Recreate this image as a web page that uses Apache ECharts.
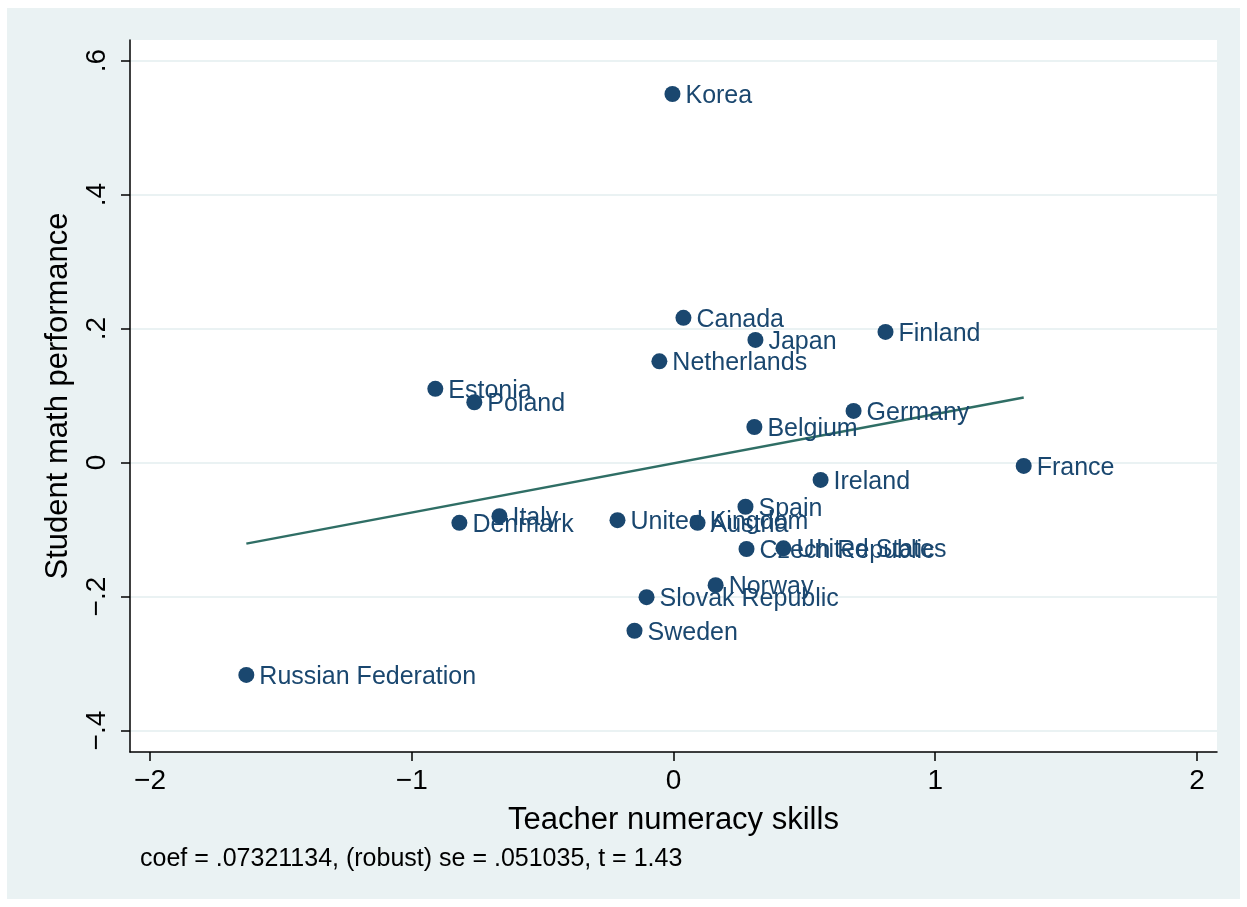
<!DOCTYPE html>
<html>
<head>
<meta charset="utf-8">
<script src="https://cdn.jsdelivr.net/npm/echarts@6/dist/echarts.min.js"></script>
<style>
  html, body { margin: 0; padding: 0; background: #ffffff; }
  #chart {
    position: absolute;
    left: 7px;
    top: 8px;
    width: 1233px;
    height: 891px;
    background: #eaf2f3;
  }
</style>
</head>
<body>
<div id="chart"></div>
<script>
// countries and their values
const countries = [
  'Korea', 'Canada', 'Japan', 'Finland', 'Netherlands', 'Estonia', 'Poland',
  'Germany', 'Belgium', 'France', 'Ireland', 'Spain', 'Italy', 'Denmark',
  'United Kingdom', 'Austria', 'Czech Republic', 'United States', 'Norway',
  'Slovak Republic', 'Sweden', 'Russian Federation'
]
const teacherSkills = [
  -0.004, 0.038, 0.313, 0.810, -0.054, -0.910, -0.761,
  0.688, 0.309, 1.338, 0.562, 0.275, -0.665, -0.818,
  -0.214, 0.092, 0.279, 0.420, 0.161,
  -0.103, -0.149, -1.632
]
const mathPerformance = [
  0.550, 0.216, 0.183, 0.195, 0.151, 0.110, 0.090,
  0.077, 0.053, -0.005, -0.026, -0.066, -0.080, -0.090,
  -0.086, -0.090, -0.129, -0.128, -0.183,
  -0.201, -0.251, -0.317
]

// fitted line end points
const fitX = [-1.632, 1.338]
const fitY = [-0.121, 0.097]

// axis ticks
const xTicks = [-2, -1, 0, 1, 2]
const xTickLabels = ['\u22122', '\u22121', '0', '1', '2']
const yTicks = [-0.4, -0.2, 0, 0.2, 0.4, 0.6]
const yTickLabels = ['\u2212.4', '\u2212.2', '0', '.2', '.4', '.6']

const note = 'coef = .07321134, (robust) se = .051035, t = 1.43'

const navy = '#1a476f'
const fitColor = '#2f6e65'
const font = 'Liberation Sans, Arial, sans-serif'

function tickLabel(ticks, labels) {
  return function (v) {
    for (let i = 0; i < ticks.length; i++) {
      if (Math.abs(ticks[i] - v) < 1e-9) return labels[i]
    }
    return ''
  }
}

let myChart = echarts.init(document.getElementById('chart'), null, {renderer: 'canvas'})

myChart.setOption({
  animation: false,
  textStyle: {fontFamily: font},
  grid: {
    left: 123,
    top: 32,
    right: 23,
    bottom: 147,
    show: true,
    backgroundColor: '#ffffff',
    borderWidth: 0
  },
  graphic: [
    {
      type: 'text',
      left: 133,
      top: 839,
      style: {
        text: note,
        fontSize: 25,
        fontFamily: font,
        fill: '#000000'
      }
    }
  ],
  xAxis: {
    type: 'value',
    min: -2.0765,
    max: 2.0765,
    name: 'Teacher numeracy skills',
    nameLocation: 'middle',
    nameGap: 53,
    nameTextStyle: {fontSize: 31, color: '#000', fontFamily: font},
    axisLine: {show: true, onZero: false, lineStyle: {color: '#000', width: 1.5}},
    axisTick: {show: true, length: 9, lineStyle: {color: '#000', width: 1.5}, customValues: xTicks},
    axisLabel: {
      fontSize: 28,
      color: '#000',
      margin: 15,
      customValues: xTicks,
      formatter: tickLabel(xTicks, xTickLabels)
    },
    splitLine: {show: false}
  },
  yAxis: {
    type: 'value',
    min: -0.432,
    max: 0.6306,
    name: 'Student math performance',
    nameLocation: 'middle',
    nameGap: 56,
    nameRotate: 90,
    nameTextStyle: {fontSize: 31, color: '#000', fontFamily: font},
    axisLine: {show: true, onZero: false, lineStyle: {color: '#000', width: 1.5}},
    axisTick: {show: true, length: 9, lineStyle: {color: '#000', width: 1.5}, customValues: yTicks},
    axisLabel: {
      fontSize: 28,
      color: '#000',
      margin: 19,
      rotate: 90,
      customValues: yTicks,
      formatter: tickLabel(yTicks, yTickLabels)
    },
    splitLine: {show: true, lineStyle: {color: '#eaf2f3', width: 2}}
  },
  series: [
    {
      name: 'fit',
      type: 'line',
      z: 2,
      showSymbol: false,
      silent: true,
      lineStyle: {color: fitColor, width: 2.5},
      data: [[fitX[0], fitY[0]], [fitX[1], fitY[1]]]
    },
    {
      name: 'countries',
      type: 'scatter',
      z: 3,
      symbol: 'circle',
      symbolSize: 16,
      itemStyle: {color: navy, opacity: 1},
      label: {
        show: true,
        position: 'right',
        distance: 5,
        offset: [0, 2],
        fontSize: 25,
        fontFamily: font,
        color: navy,
        opacity: 1,
        formatter: p => p.name
      },
      data: countries.map((c, i) => ({name: c, value: [teacherSkills[i], mathPerformance[i]]}))
    }
  ]
})
</script>
</body>
</html>
